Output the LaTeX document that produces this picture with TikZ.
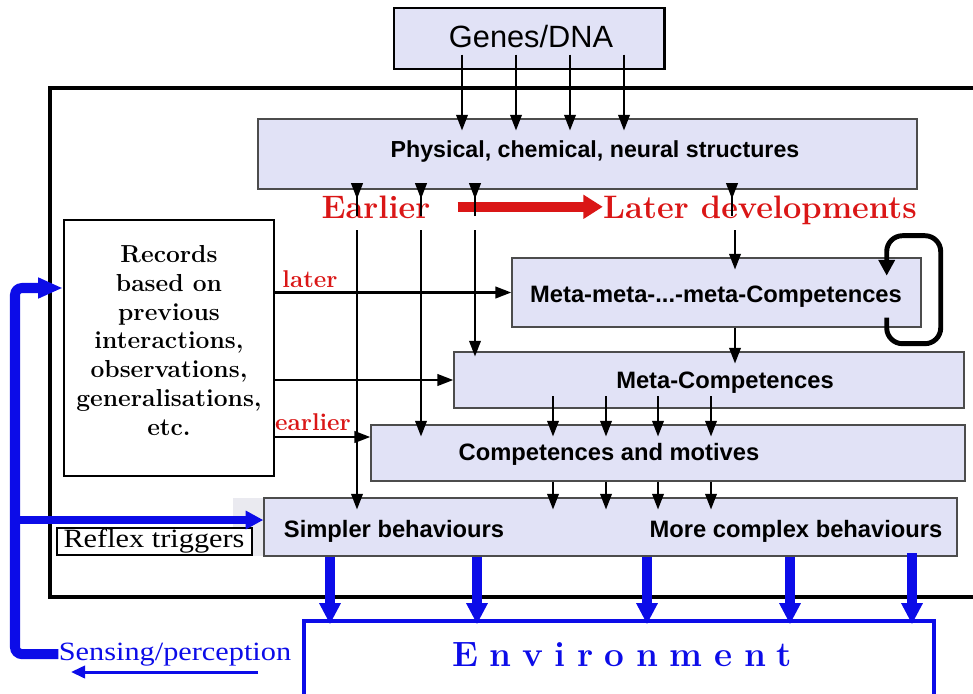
\documentclass[tikz,border=0pt]{standalone}
\usepackage{fontspec}
\setsansfont{Liberation Sans}
\newfontfamily\wideserif{Liberation Serif}[FakeStretch=1.15]
\newfontfamily\envfont{Latin Modern Roman}[LetterSpace=33]
\usetikzlibrary{arrows.meta,calc}
\definecolor{boxfill}{RGB}{225,226,246}
\definecolor{stripfill}{RGB}{234,234,240}
\definecolor{devred}{RGB}{218,22,22}
\definecolor{envblue}{RGB}{12,12,232}
\newcommand{\pxu}{0.02cm}
\tikzset{
	box/.style={draw=black!70, line width=0.8pt, fill=boxfill, inner sep=0pt},
	boxtext/.style={font=\sffamily\bfseries\fontsize{13.5}{16}\selectfont, anchor=base, inner sep=0pt},
	redtext/.style={text=devred, font=\bfseries\fontsize{18.5}{22}\selectfont, anchor=base, inner sep=0pt},
	redlabel/.style={text=devred, font=\bfseries\fontsize{13.8}{16}\selectfont, anchor=base, inner sep=0pt},
	darrow/.style={line width=1.4pt, -{Triangle[length=9pt,width=6.5pt]}},
	intobox/.style={shorten >=-7pt},
	bluearrow/.style={draw=envblue, line width=5.7pt, -{Triangle[length=12pt,width=11.5pt]}},
}

\begin{document}
\begin{tikzpicture}[x=\pxu, y=-\pxu]
	\useasboundingbox (0,0) rectangle (973,693);
	\clip (0,0) rectangle (973,693);

	\draw[line width=2.8pt] (1000,597) -| (50,88) -- (1000,88);

	\node[box, draw=black, line width=1.7pt, minimum width=270*\pxu, minimum height=61*\pxu] (genes) at (529,38.5) {};
	\node[box, minimum width=659*\pxu, minimum height=70*\pxu] (phys) at (587.5,154) {};
	\node[box, minimum width=409*\pxu, minimum height=69*\pxu] (meta2) at (716.5,292.5) {};
	\node[box, minimum width=510*\pxu, minimum height=56*\pxu] (meta) at (709,380) {};
	\node[box, minimum width=594*\pxu, minimum height=56*\pxu] (comp) at (668,453) {};
	\fill[stripfill] (233,498) rectangle (264,556);
	\node[box, minimum width=693*\pxu, minimum height=58*\pxu] (beh) at (610.5,527) {};
	\node[box, draw=black, fill=white, line width=1.4pt, minimum width=210*\pxu, minimum height=256*\pxu] (rec) at (169,348) {};
	\node[box, draw=black, fill=white, line width=0.9pt, minimum width=195*\pxu, minimum height=27*\pxu] (reflex) at (154.5,541.5) {};
	\node[box, draw=envblue, fill=white, line width=2.3pt, minimum width=630*\pxu, minimum height=100*\pxu] (env) at (619,671) {};

	\node[anchor=base, inner sep=0pt, font=\sffamily\fontsize{17.5}{20}\selectfont] (genestext) at (531,47) {Genes/DNA};
	\node[boxtext, font=\sffamily\bfseries\fontsize{13.2}{16}\selectfont] (phystext) at (595,157) {Physical, chemical, neural structures};
	\node[boxtext] (meta2text) at (716,302) {Meta-meta-...-meta-Competences};
	\node[boxtext] (metatext) at (725,388) {Meta-Competences};
	\node[boxtext] (comptext) at (609,460) {Competences and motives};
	\node[boxtext] (simple) at (394,537) {Simpler behaviours};
	\node[boxtext] (complex) at (796,537) {More complex behaviours};
	\node[anchor=north, inner sep=0pt, align=center, font=\bfseries\fontsize{14}{16.4}\selectfont] (rectext) at (169,245) {Records\\based on\\previous\\interactions,\\observations,\\generalisations,\\etc.};
	\node[anchor=base, inner sep=0pt, font=\wideserif\fontsize{15}{18}\selectfont] (reflextext) at (154,547) {Reflex triggers};
	\node[anchor=base, inner sep=0pt, text=envblue, font=\wideserif\fontsize{15}{18}\selectfont] (sense) at (175,660) {Sensing/perception};
	\node[anchor=base, inner sep=0pt, text=envblue, font=\envfont\bfseries\fontsize{20}{24}\selectfont] (envtext) at (622,666) {Environment};

	\node[redtext] (early) at (376,218) {Earlier};
	\node[redtext] (late) at (760,218) {Later developments};
	\node[redlabel] (latelbl) at (310,287) {later};
	\node[redlabel] (earlylbl) at (313,430) {earlier};
	\draw[devred, line width=5.7pt, -{Triangle[length=11pt,width=13pt]}] ($(early.east)+(27,0)$) -- (late.west |- early.east);

	\coordinate (bandtop) at (0,199);
	\coordinate (bandbot) at (0,230);

	\foreach \x in {462,516,570,624}
		\draw[darrow, shorten <=-9pt, intobox] (\x,0 |- genes.south) -- (\x,0 |- phys.north);
	\foreach \x in {357,421,475,732}
		\draw[darrow, shorten <=-15pt] (\x,0 |- phys.south) -- (\x,0 |- bandtop);
	\draw[darrow, intobox] (357,0 |- bandbot) -- (357,0 |- beh.north);
	\draw[darrow, intobox] (421,0 |- bandbot) -- (421,0 |- comp.north);
	\draw[darrow, shorten >=-3pt] (475,0 |- bandbot) -- (475,0 |- meta.north);
	\draw[darrow, intobox] (735,0 |- bandbot) -- (735,0 |- meta2.north);
	\draw[darrow, intobox] (735,0 |- meta2.south) -- (735,0 |- meta.north);
	\foreach \x in {553,606,658,711}
		\draw[darrow, shorten <=-7pt, intobox] (\x,0 |- meta.south) -- (\x,0 |- comp.north);
	\foreach \x in {553,606,658,711}
		\draw[darrow, intobox] (\x,0 |- comp.south) -- (\x,0 |- beh.north);

	\draw[darrow] (rec.east |- meta2.west) -- (meta2.west);
	\draw[darrow] (rec.east |- meta.west) -- (meta.west);
	\draw[darrow] (rec.east |- 0,437) -- (comp.west |- 0,437);

	\draw[line width=2.8pt, rounded corners=9pt, -{Triangle[length=9pt,width=9pt]}] ($(meta2.south east)+(-35,-10)$) |- ++(54,26) -- ++(0,-108) -| ++(-54,40);

	\foreach \x in {330,477,647,790}
		\draw[bluearrow, shorten >=-3pt] (\x,0 |- beh.south) -- (\x,0 |- env.north);
	\draw[bluearrow, shorten <=-2pt, shorten >=-3pt] (912,0 |- beh.south) -- (912,0 |- env.north);

	\coordinate (branch) at (15,520);
	\draw[bluearrow, rounded corners=4pt, -{Triangle[length=14pt,width=11pt]}] (sense.west) -| (15,288) -- (rec.west |- 15,288);
	\draw[bluearrow, line width=4.5pt, -{Triangle[length=10pt,width=10pt]}] (branch) -- (beh.west |- branch);

	\coordinate (senseR) at (258,672);
	\coordinate (senseL) at (71,672);
	\draw[envblue, line width=1.7pt, -{Triangle[length=8pt,width=7pt]}] (senseR) -- (senseL);
\end{tikzpicture}
\end{document}
